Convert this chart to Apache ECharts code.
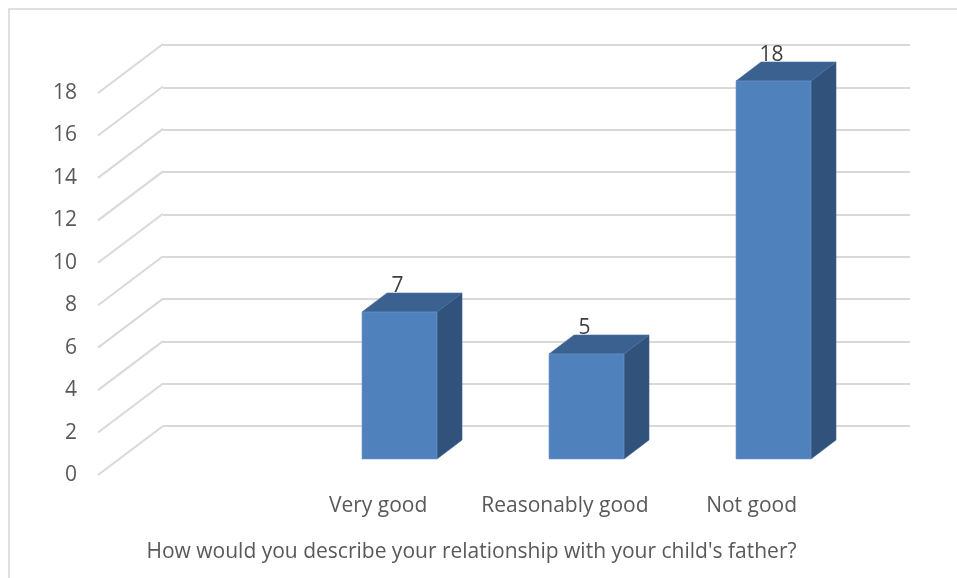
<!DOCTYPE html>
<html>
<head>
<meta charset="utf-8">
<style>
  html, body { margin: 0; padding: 0; background: #ffffff; }
  #chart { width: 957px; height: 578px; }
</style>
<script src="https://cdn.jsdelivr.net/npm/echarts@6/dist/echarts.min.js"></script>
</head>
<body>
<div id="chart"></div>
<script>
// Survey answers (first slot of the category axis is blank)
const categories = ['', 'Very good', 'Reasonably good', 'Not good'];
const counts = ['-', 7, 5, 18];
const tickValues = [0, 2, 4, 6, 8, 10, 12, 14, 16, 18];
const axisTitle = "How would you describe your relationship with your child's father?";

const FONT = '"Open Sans", Lato, sans-serif';
const FONT_SIZE = 21;
const TEXT = '#595959';
const GRID_LINE = '#d9d9d9';

// Column face colours
const FRONT = '#4f81bd';
const TOP = '#3b6190';
const SIDE = '#30527b';

// Depth of a column (pixel offset of its back face)
const DEPTH_X = 25, DEPTH_Y = -19;
// Offset from the front axis edge to the back wall
const WALL_X = 65, WALL_Y = -49;

const chart = echarts.init(document.getElementById('chart'), null, { renderer: 'canvas' });

chart.setOption({
  animation: false,
  backgroundColor: '#ffffff',
  graphic: [{
    type: 'rect',
    shape: { x: 9, y: 9, width: 1200, height: 900 },
    style: { fill: 'none', stroke: '#d6d6d6', lineWidth: 1.5 },
    silent: true,
    z: 0
  }],
  grid: [
    // back wall
    { left: 163, right: 47, top: 45, bottom: 152 },
    // front edge of the floor, carries the value and category labels
    { left: 98, right: 112, top: 93, bottom: 103 },
    // columns
    { left: 119, right: 90, top: 81, bottom: 119 }
  ],
  xAxis: [
    { gridIndex: 0, type: 'category', data: categories, show: false },
    {
      gridIndex: 1, type: 'category', data: categories,
      axisLine: { show: false }, axisTick: { show: false },
      axisLabel: { color: TEXT, fontFamily: FONT, fontSize: FONT_SIZE, margin: 21, interval: 0 },
      name: axisTitle, nameLocation: 'middle', nameGap: 67,
      nameTextStyle: { color: TEXT, fontFamily: FONT, fontSize: FONT_SIZE }
    },
    { gridIndex: 2, type: 'category', data: categories, show: false }
  ],
  yAxis: [
    {
      gridIndex: 0, type: 'value', min: 0, max: 18, interval: 2,
      axisLine: { show: false }, axisTick: { show: false }, axisLabel: { show: false },
      splitLine: { show: true, lineStyle: { color: GRID_LINE, width: 2 } }
    },
    {
      gridIndex: 1, type: 'value', min: 0, max: 18, interval: 2,
      axisLine: { show: false }, axisTick: { show: false },
      axisLabel: { color: TEXT, fontFamily: FONT, fontSize: FONT_SIZE, margin: 21 },
      splitLine: { show: false }
    },
    {
      gridIndex: 2, type: 'value', min: 0, max: 18, interval: 2, show: false,
      splitLine: { show: false }
    }
  ],
  series: [
    // side-wall gridlines running from the front edge back to the wall
    {
      type: 'custom',
      xAxisIndex: 1, yAxisIndex: 1,
      data: tickValues.map(v => [0, v]),
      silent: true,
      z: 1,
      renderItem: function (params, api) {
        const p = api.coord([0, api.value(1)]);
        const x0 = params.coordSys.x;
        return {
          type: 'line',
          shape: { x1: x0, y1: p[1], x2: x0 + WALL_X, y2: p[1] + WALL_Y },
          style: { stroke: GRID_LINE, lineWidth: 2 }
        };
      }
    },
    // 3D columns with their value labels
    {
      type: 'custom',
      xAxisIndex: 2, yAxisIndex: 2,
      data: counts.map((v, i) => [i, v]),
      z: 5,
      renderItem: function (params, api) {
        const val = api.value(1);
        if (isNaN(val)) return null;
        const top = api.coord([api.value(0), val]);
        const base = api.coord([api.value(0), 0]);
        const w = 75;
        const l = top[0] - w / 2, r = top[0] + w / 2;
        const t = top[1], b = base[1];
        return {
          type: 'group',
          children: [
            {
              type: 'polygon',
              shape: { points: [[r, t], [r + DEPTH_X, t + DEPTH_Y], [r + DEPTH_X, b + DEPTH_Y], [r, b]] },
              style: { fill: SIDE, stroke: '#3d5f89', lineWidth: 0.6 }
            },
            {
              type: 'polygon',
              shape: { points: [[l, t], [l + DEPTH_X, t + DEPTH_Y], [r + DEPTH_X, t + DEPTH_Y], [r, t]] },
              style: { fill: TOP, stroke: '#4a70a0', lineWidth: 0.6 }
            },
            {
              type: 'rect',
              shape: { x: l, y: t, width: w, height: b - t },
              style: { fill: FRONT, stroke: '#6f98cc', lineWidth: 0.6 }
            },
            {
              type: 'text',
              style: {
                x: top[0] - 2, y: t - 26,
                text: String(val),
                fill: '#404040',
                font: FONT_SIZE + 'px ' + FONT,
                align: 'center', verticalAlign: 'middle'
              }
            }
          ]
        };
      }
    }
  ]
});
</script>
</body>
</html>
